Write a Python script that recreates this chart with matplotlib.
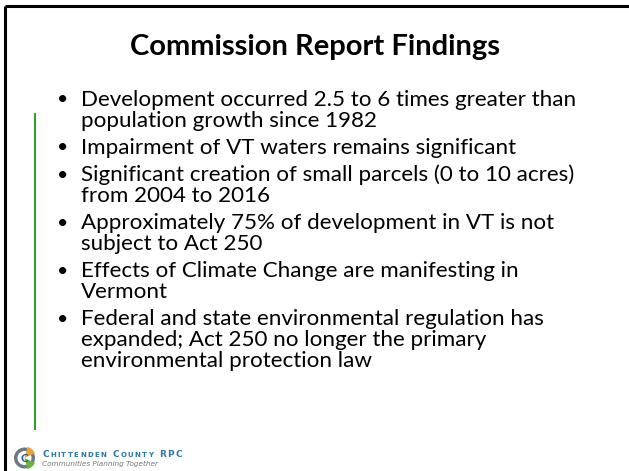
"""
Slide recreation: Commission Report Findings.
"""
import matplotlib.pyplot as plt
from matplotlib.patches import Circle, Wedge

title = "Commission Report Findings"
bullets = [
    ["Development occurred 2.5 to 6 times greater than",
     "population growth since 1982"],
    ["Impairment of VT waters remains significant"],
    ["Significant creation of small parcels (0 to 10 acres)",
     "from 2004 to 2016"],
    ["Approximately 75% of development in VT is not",
     "subject to Act 250"],
    ["Effects of Climate Change are manifesting in",
     "Vermont"],
    ["Federal and state environmental regulation has",
     "expanded; Act 250 no longer the primary",
     "environmental protection law"],
]
org_words = ["Chittenden", "County", "RPC"]
org_tag = "Communities Planning Together"

W, H = 629, 471
fig = plt.figure(figsize=(W / 100, H / 100), dpi=100)
ax = fig.add_axes([0, 0, 1, 1])
ax.set_xlim(0, W)
ax.set_ylim(H, 0)
ax.axis('off')

font = ['Lato', 'DejaVu Sans']

# slide frame (top and left black rules) and green accent line
ax.plot([5, W], [6, 6], color='black', lw=2.2, solid_capstyle='butt')
ax.plot([5, 5], [6, H], color='black', lw=2.2, solid_capstyle='butt')
ax.plot([35, 35], [113, 430], color='#3a9a2f', lw=1.5, solid_capstyle='butt')

ax.text(315, 47, title, ha='center', va='center', fontsize=21,
        fontweight='bold', family=font, color='black')

y = 100
line_gap = 20.8
item_gap = 6.4
for item in bullets:
    ax.text(63, y, "\u2022", ha='center', va='center', fontsize=14,
            family=font, color='black')
    for line in item:
        ax.text(81, y, line, ha='left', va='center', fontsize=16.1,
                family=font, color='black')
        y += line_gap
    y += item_gap

# logo
cx, cy = 24.5, 458
ax.add_patch(Circle((cx, cy), 10.5, facecolor='#6d7a86', edgecolor='none'))
ax.add_patch(Circle((cx, cy), 7, facecolor='white', edgecolor='none'))
ax.add_patch(Wedge((cx, cy), 11.5, -75, -25, facecolor='#e8a33a', edgecolor='none'))
ax.add_patch(Wedge((cx, cy), 11.5, 25, 75, facecolor='#6bb33f', edgecolor='none'))
ax.text(cx, cy + 0.5, "C", ha='center', va='center', fontsize=8.5, fontweight='bold',
        family=font, color='#1f5d9c')

# small-caps wordmark, letter by letter with wide tracking
fig.canvas.draw()
renderer = fig.canvas.get_renderer()
inv = ax.transData.inverted()
x = 42.5
for word in org_words:
    for i, ch in enumerate(word.upper()):
        big = i == 0 or word.isupper()
        t = ax.text(x, 457, ch, ha='left', va='baseline',
                    fontsize=6.4 if big else 5.0, fontweight='bold',
                    family='DejaVu Sans', color='#2a76a8')
        bb = t.get_window_extent(renderer)
        x += inv.transform((bb.x1, 0))[0] - inv.transform((bb.x0, 0))[0] + 1.3
    x += 5
ax.text(42.5, 463.5, org_tag, ha='left', va='center', fontsize=5.2,
        style='italic', family='DejaVu Sans', color='#777777')

fig.savefig('out.png', dpi=100)
